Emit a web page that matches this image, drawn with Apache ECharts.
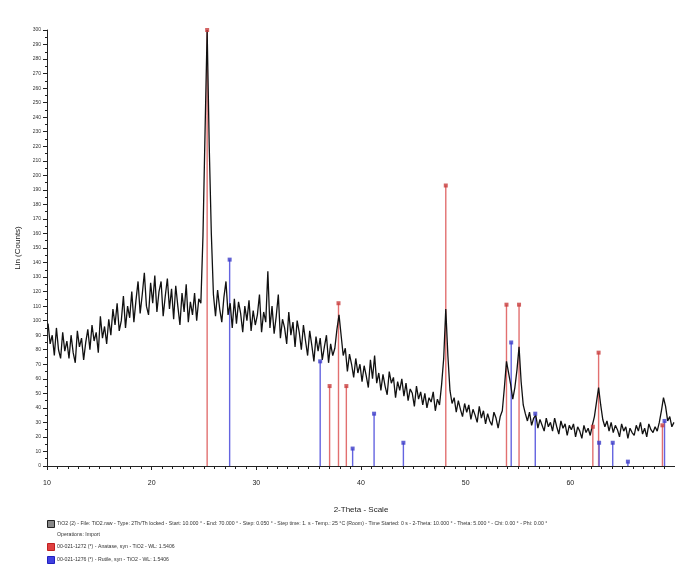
<!DOCTYPE html>
<html>
<head>
<meta charset="utf-8">
<script src="https://cdn.jsdelivr.net/npm/echarts@6/dist/echarts.min.js"></script>
<style>
html,body{margin:0;padding:0;background:#fff;}
#chart{width:675px;height:574px;}
</style>
</head>
<body>
<div id="chart"></div>
<script>
// Scan: 2-Theta start / step (measured pattern)
const scanStart = 10.1;
const scanStep = 0.2;
const counts = [
  98, 84, 90, 76, 95, 80, 74, 92, 79, 86,
  74, 90, 78, 71, 93, 82, 88, 73, 85, 94,
  80, 97, 86, 92, 78, 103, 88, 96, 84, 101,
  90, 108, 97, 112, 93, 100, 117, 95, 110, 102,
  120, 99, 114, 127, 105, 118, 133, 110, 104, 126,
  112, 131, 106, 120, 127, 103, 117, 129, 108, 122,
  101, 124, 110, 97, 119, 106, 125, 99, 113, 104,
  119, 100, 115, 112, 158, 230, 300, 220, 160, 118,
  103, 121, 108, 99, 116, 127, 104, 112, 95, 115,
  98, 113, 105, 92, 110, 100, 114, 93, 107, 97,
  104, 118, 92, 106, 99, 134, 95, 110, 91, 103,
  118, 88, 101, 95, 84, 106, 90, 99, 82, 100,
  92, 80, 97, 86, 76, 93, 83, 72, 89, 79,
  88, 73, 82, 90, 71, 84, 76, 81, 94, 104,
  90, 76, 81, 65, 77, 70, 61, 74, 64, 70,
  58, 69, 62, 54, 73, 60, 76, 57, 64, 52,
  63, 55, 49, 65, 57, 61, 47, 58, 52, 60,
  48, 57, 45, 53, 50, 41, 55, 46, 51, 42,
  50, 40, 47, 44, 51, 38, 46, 42, 56, 74,
  108, 76, 52, 43, 47, 37, 45, 39, 34, 43,
  37, 42, 32, 39, 35, 30, 41, 33, 38, 29,
  36, 31, 28, 37, 33, 26, 34, 38, 54, 72,
  64, 56, 46, 54, 66, 82, 58, 42, 36, 31,
  37, 28, 33, 35, 26, 32, 28, 24, 33, 27,
  30, 24, 33, 27, 22, 31, 26, 29, 21, 28,
  25, 29, 20, 27, 24, 19, 28, 23, 26, 21,
  28, 34, 44, 54, 42, 32, 27, 31, 24, 30,
  23, 28, 25, 20, 29, 24, 27, 19, 26, 23,
  21, 28, 24, 30, 22, 26, 20, 29, 25, 23,
  27, 24, 30, 38, 47, 41, 31, 34, 27, 30
];
// Reference stick patterns
const anataseTheta  = [25.3, 37.0, 37.85, 38.6, 48.1, 53.9, 55.1, 62.15, 62.7, 68.8];
const anataseHeight = [300, 55, 112, 55, 193, 111, 111, 27, 78, 28];
const rutileTheta   = [27.45, 36.1, 39.2, 41.25, 44.05, 54.35, 56.65, 62.75, 64.05, 65.5, 69.0];
const rutileHeight  = [142, 72, 12, 36, 16, 85, 36, 16, 16, 3, 31];
const yTickLabels = ['0','10','20','30','40','50','60','70','80','90','100','110','120','130','140','150','160','170','180','190','200','210','220','230','240','250','260','270','280','290','300'];
const legendLines = [
  'TiO2 (2) - File: TiO2.raw - Type: 2Th/Th locked - Start: 10.000 ° - End: 70.000 ° - Step: 0.050 ° - Step time: 1. s - Temp.: 25 °C (Room) - Time Started: 0 s - 2-Theta: 10.000 ° - Theta: 5.000 ° - Chi: 0.00 ° - Phi: 0.00 °',
  'Operations: Import',
  '00-021-1272 (*) - Anatase, syn - TiO2 - WL: 1.5406',
  '00-021-1276 (*) - Rutile, syn - TiO2 - WL: 1.5406'
];

const pattern = counts.map((c, i) => [+(scanStart + i * scanStep).toFixed(2), c]);
const anatase = anataseTheta.map((t, i) => [t, anataseHeight[i]]);
const rutile = rutileTheta.map((t, i) => [t, rutileHeight[i]]);

function stickRender(color, width) {
  return function (params, api) {
    const p0 = api.coord([api.value(0), 0]);
    const p1 = api.coord([api.value(0), api.value(1)]);
    return {
      type: 'line',
      shape: {x1: p0[0], y1: p0[1], x2: p1[0], y2: p1[1]},
      style: {stroke: color, lineWidth: width}
    };
  };
}

const chart = echarts.init(document.getElementById('chart'), null, {renderer: 'canvas'});
const font = 'Liberation Sans';
chart.setOption({
  animation: false,
  backgroundColor: '#fff',
  textStyle: {fontFamily: font},
  grid: {left: 47, right: 0, top: 30, bottom: 108, containLabel: false},
  xAxis: {
    type: 'value', min: 10, max: 70, interval: 10,
    name: '2-Theta - Scale', nameLocation: 'middle', nameGap: 40,
    nameTextStyle: {fontSize: 8, color: '#222', fontFamily: font},
    axisLine: {lineStyle: {color: '#222', width: 1}},
    axisTick: {show: true, length: 4, lineStyle: {color: '#222'}},
    minorTick: {show: true, splitNumber: 10, length: 3, lineStyle: {color: '#222'}},
    axisLabel: {fontSize: 7, color: '#222', margin: 14, showMaxLabel: false, formatter: v => String(v)},
    splitLine: {show: false}
  },
  yAxis: {
    type: 'value', min: 0, max: 300, interval: 10,
    name: 'Lin (Counts)', nameLocation: 'middle', nameGap: 24, nameRotate: 90,
    nameTextStyle: {fontSize: 8, color: '#222', fontFamily: font},
    axisLine: {show: true, lineStyle: {color: '#222', width: 1}},
    axisTick: {show: true, length: 4, lineStyle: {color: '#222'}},
    minorTick: {show: true, splitNumber: 2, length: 2, lineStyle: {color: '#222'}},
    axisLabel: {fontSize: 5, color: '#333', margin: 6, formatter: (v) => yTickLabels[Math.round(v / 10)]},
    splitLine: {show: false}
  },
  series: [
    {
      name: 'anatase sticks', type: 'custom', data: anatase,
      renderItem: stickRender('#e27070', 1.4), z: 1, silent: true
    },
    {
      name: 'rutile sticks', type: 'custom', data: rutile,
      renderItem: stickRender('#6464e0', 1.4), z: 1, silent: true
    },
    {
      name: 'pattern', type: 'line', data: pattern, showSymbol: false, symbol: 'none',
      lineStyle: {color: '#111', width: 1.3}, z: 3, silent: true
    },
    {
      name: 'anatase tops', type: 'scatter', data: anatase, symbol: 'rect', symbolSize: 4,
      itemStyle: {color: '#c83c3c'}, z: 4, silent: true
    },
    {
      name: 'rutile tops', type: 'scatter', data: rutile, symbol: 'rect', symbolSize: 4,
      itemStyle: {color: '#3c3cc8'}, z: 4, silent: true
    }
  ],
  graphic: [
    {type: 'rect', left: 47, top: 520, shape: {width: 7, height: 7}, style: {fill: '#888', stroke: '#222', lineWidth: 1}},
    {type: 'text', left: 57, top: 521, style: {text: legendLines[0], fontSize: 5.2, fill: '#333', fontFamily: font}},
    {type: 'text', left: 57, top: 532, style: {text: legendLines[1], fontSize: 5.2, fill: '#333', fontFamily: font}},
    {type: 'rect', left: 47, top: 543, shape: {width: 7, height: 7}, style: {fill: '#e04040', stroke: '#c02020', lineWidth: 1}},
    {type: 'text', left: 57, top: 544, style: {text: legendLines[2], fontSize: 5.2, fill: '#333', fontFamily: font}},
    {type: 'rect', left: 47, top: 556, shape: {width: 7, height: 7}, style: {fill: '#4040e0', stroke: '#2020c0', lineWidth: 1}},
    {type: 'text', left: 57, top: 557, style: {text: legendLines[3], fontSize: 5.2, fill: '#333', fontFamily: font}}
  ]
});
</script>
</body>
</html>
